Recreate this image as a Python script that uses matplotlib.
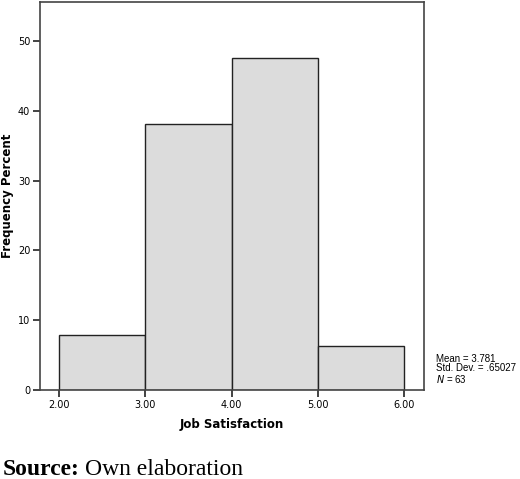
import matplotlib.pyplot as plt
import numpy as np

bin_edges = [2.0, 3.0, 4.0, 5.0, 6.0]
percent = [7.94, 38.10, 47.62, 6.35]
x_ticks = [2.0, 3.0, 4.0, 5.0, 6.0]
y_ticks = [0, 10, 20, 30, 40, 50]
stats = ["Mean = 3.781", "Std. Dev. = .65027", "$\\it{N}$ = 63"]

fig = plt.figure(figsize=(5.2, 4.79), dpi=100)
ax = fig.add_axes([0.0769, 0.1858, 0.7385, 0.81])

lefts = np.array(bin_edges[:-1])
widths = np.diff(bin_edges)
ax.bar(lefts, percent, width=widths, align='edge', color='#dcdcdc',
       edgecolor='#222222', linewidth=1.0)

ax.set_xlim(1.78, 6.23)
ax.set_ylim(0, 55.6)
ax.set_xticks(x_ticks)
ax.set_xticklabels(['%.2f' % v for v in x_ticks])
ax.set_yticks(y_ticks)
ax.tick_params(labelsize=7, length=5, width=1.2, color='#222222', pad=2)
for s in ax.spines.values():
    s.set_color('#444444')
    s.set_linewidth(1.2)

ax.set_xlabel('Job Satisfaction', fontsize=8.5, fontweight='bold', labelpad=6)
ax.set_ylabel('Frequency Percent', fontsize=8.5, fontweight='bold', labelpad=3)

fig.text(0.838, 0.262, "\n".join(stats), fontsize=7, va='top', ha='left',
         linespacing=0.95, family='Liberation Sans')

# source line: bold label then regular text right after it
t1 = fig.text(0.005, 0.008, "Source:", fontsize=17, fontweight='bold',
              family='Liberation Serif', va='baseline')
fig.canvas.draw()
bb = t1.get_window_extent(renderer=fig.canvas.get_renderer())
x2 = bb.x1 / fig.bbox.width + 0.011
fig.text(x2, 0.008, "Own elaboration", fontsize=17, family='Liberation Serif',
         va='baseline')

fig.savefig('out.png', dpi=100)
